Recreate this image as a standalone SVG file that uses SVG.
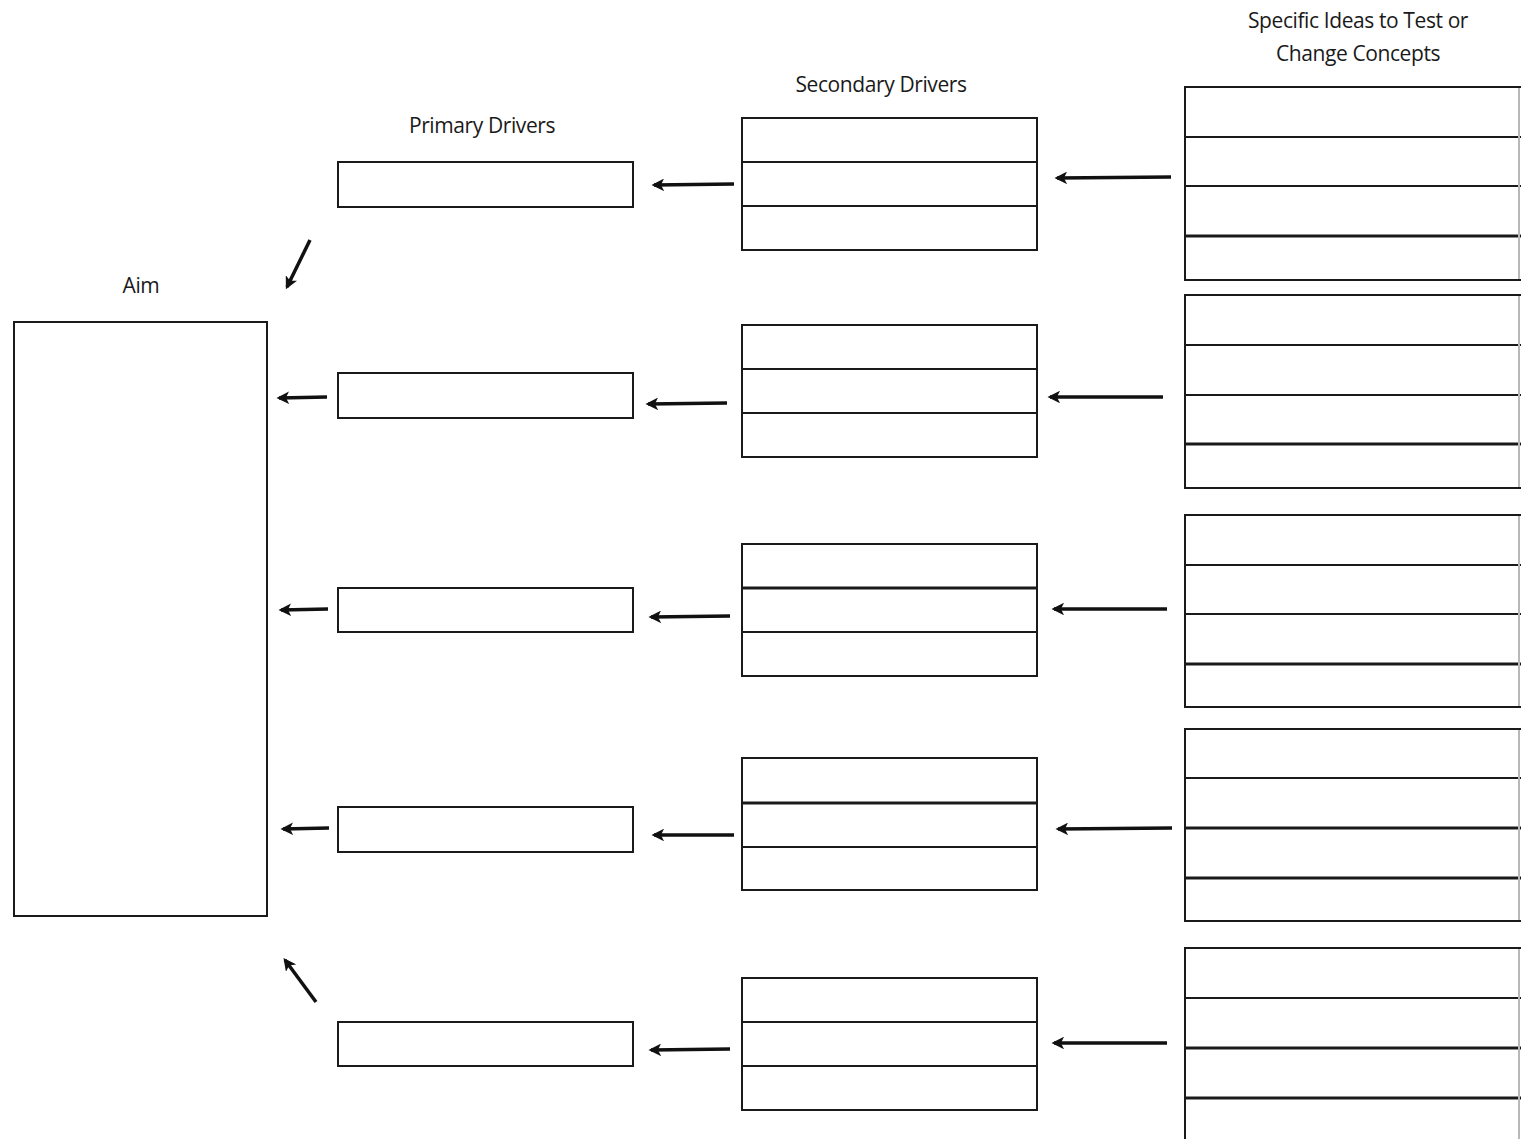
<svg xmlns="http://www.w3.org/2000/svg" width="1521" height="1139" viewBox="0 0 1521 1139">
  <style>
    .box { fill: #fff; stroke: #1a1a1a; stroke-width: 2; }
    .div { stroke: #1a1a1a; stroke-width: 2; }
    .div.heavy { stroke-width: 3; }
    .edge { stroke: #b8b8b8; stroke-width: 2; }
    .head { font-family: "Open Sans", "Noto Sans", sans-serif; font-size: 21px; fill: #1a1a1a; text-anchor: middle; letter-spacing: -0.4px; }
    .conn line { stroke: #111; stroke-width: 3.5; marker-end: url(#arrow); }
  </style>
  <defs>
    <marker id="arrow" viewBox="0 0 10 10" refX="8" refY="5" markerWidth="3.6" markerHeight="3.6" orient="auto" markerUnits="strokeWidth">
      <path d="M0,0 L10,5 L0,10 L2.5,5 Z" fill="#111"/>
    </marker>
  </defs>
  <rect width="1521" height="1139" fill="#fff"/>

  <!-- column headings -->
  <text class="head" x="141" y="293">Aim</text>
  <text class="head" x="482" y="133">Primary Drivers</text>
  <text class="head" x="881" y="92">Secondary Drivers</text>
  <text class="head" x="1358" y="28">Specific Ideas to Test or</text>
  <text class="head" x="1358" y="61">Change Concepts</text>

  <!-- aim -->
  <g id="aim">
    <rect class="box" x="14" y="322" width="253" height="594"/>
  </g>

  <!-- primary drivers -->
  <g id="primary-1"><rect class="box" x="338" y="162" width="295" height="45"/></g>
  <g id="primary-2"><rect class="box" x="338" y="373" width="295" height="45"/></g>
  <g id="primary-3"><rect class="box" x="338" y="588" width="295" height="44"/></g>
  <g id="primary-4"><rect class="box" x="338" y="807" width="295" height="45"/></g>
  <g id="primary-5"><rect class="box" x="338" y="1022" width="295" height="44"/></g>

  <!-- secondary drivers -->
  <g id="secondary-1">
    <rect class="box" x="742" y="118" width="295" height="132"/>
    <line class="div" x1="742" y1="162" x2="1037" y2="162"/>
    <line class="div" x1="742" y1="206" x2="1037" y2="206"/>
  </g>
  <g id="secondary-2">
    <rect class="box" x="742" y="325" width="295" height="132"/>
    <line class="div" x1="742" y1="369" x2="1037" y2="369"/>
    <line class="div" x1="742" y1="413" x2="1037" y2="413"/>
  </g>
  <g id="secondary-3">
    <rect class="box" x="742" y="544" width="295" height="132"/>
    <line class="div heavy" x1="742" y1="588" x2="1037" y2="588"/>
    <line class="div" x1="742" y1="632" x2="1037" y2="632"/>
  </g>
  <g id="secondary-4">
    <rect class="box" x="742" y="758" width="295" height="132"/>
    <line class="div heavy" x1="742" y1="803" x2="1037" y2="803"/>
    <line class="div" x1="742" y1="847" x2="1037" y2="847"/>
  </g>
  <g id="secondary-5">
    <rect class="box" x="742" y="978" width="295" height="132"/>
    <line class="div" x1="742" y1="1022" x2="1037" y2="1022"/>
    <line class="div" x1="742" y1="1066" x2="1037" y2="1066"/>
  </g>

  <!-- change ideas (right edge runs off the page) -->
  <g id="ideas-1">
    <rect class="box" x="1185" y="87" width="340" height="193"/>
    <line class="div" x1="1185" y1="137" x2="1521" y2="137"/>
    <line class="div" x1="1185" y1="186" x2="1521" y2="186"/>
    <line class="div heavy" x1="1185" y1="236" x2="1521" y2="236"/>
    <line class="edge" x1="1519" y1="88" x2="1519" y2="279"/>
  </g>
  <g id="ideas-2">
    <rect class="box" x="1185" y="295" width="340" height="193"/>
    <line class="div" x1="1185" y1="345" x2="1521" y2="345"/>
    <line class="div" x1="1185" y1="395" x2="1521" y2="395"/>
    <line class="div heavy" x1="1185" y1="444" x2="1521" y2="444"/>
    <line class="edge" x1="1519" y1="296" x2="1519" y2="487"/>
  </g>
  <g id="ideas-3">
    <rect class="box" x="1185" y="515" width="340" height="192"/>
    <line class="div" x1="1185" y1="565" x2="1521" y2="565"/>
    <line class="div" x1="1185" y1="614" x2="1521" y2="614"/>
    <line class="div heavy" x1="1185" y1="664" x2="1521" y2="664"/>
    <line class="edge" x1="1519" y1="516" x2="1519" y2="706"/>
  </g>
  <g id="ideas-4">
    <rect class="box" x="1185" y="729" width="340" height="192"/>
    <line class="div" x1="1185" y1="778" x2="1521" y2="778"/>
    <line class="div heavy" x1="1185" y1="828" x2="1521" y2="828"/>
    <line class="div heavy" x1="1185" y1="878" x2="1521" y2="878"/>
    <line class="edge" x1="1519" y1="730" x2="1519" y2="920"/>
  </g>
  <g id="ideas-5">
    <rect class="box" x="1185" y="948" width="340" height="200"/>
    <line class="div" x1="1185" y1="998" x2="1521" y2="998"/>
    <line class="div heavy" x1="1185" y1="1048" x2="1521" y2="1048"/>
    <line class="div heavy" x1="1185" y1="1098" x2="1521" y2="1098"/>
    <line class="edge" x1="1519" y1="949" x2="1519" y2="1139"/>
  </g>

  <!-- connectors -->
  <g id="connectors" class="conn">
    <line x1="1171" y1="177" x2="1057" y2="178"/>
    <line x1="1163" y1="397" x2="1050" y2="397"/>
    <line x1="1167" y1="609" x2="1054" y2="609"/>
    <line x1="1172" y1="828" x2="1058" y2="829"/>
    <line x1="1167" y1="1043" x2="1054" y2="1043"/>

    <line x1="734" y1="184" x2="654" y2="185"/>
    <line x1="727" y1="403" x2="648" y2="404"/>
    <line x1="730" y1="616" x2="651" y2="617"/>
    <line x1="734" y1="835" x2="654" y2="835"/>
    <line x1="730" y1="1049" x2="651" y2="1050"/>

    <line x1="327" y1="397" x2="279" y2="398"/>
    <line x1="328" y1="609" x2="281" y2="610"/>
    <line x1="329" y1="828" x2="283" y2="829"/>

    <line x1="310" y1="240" x2="287" y2="287"/>
    <line x1="316" y1="1002" x2="285" y2="960"/>
  </g>
</svg>
